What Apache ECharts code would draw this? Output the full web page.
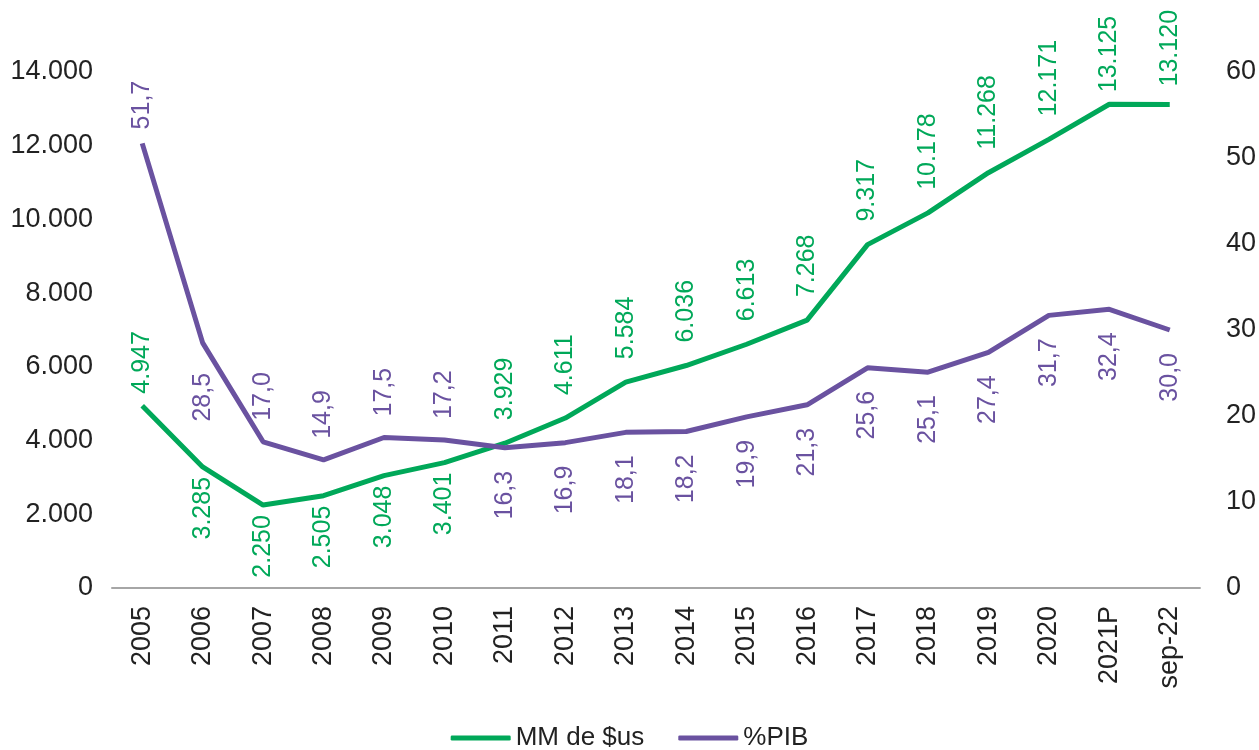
<!DOCTYPE html>
<html>
<head>
<meta charset="utf-8">
<script src="https://cdn.jsdelivr.net/npm/echarts@6/dist/echarts.min.js"></script>
<style>
html,body{margin:0;padding:0;background:#fff;}
#c{width:1259px;height:750px;}
</style>
</head>
<body>
<div id="c"></div>
<script>
const categories = ['2005','2006','2007','2008','2009','2010','2011','2012','2013','2014','2015','2016','2017','2018','2019','2020','2021P','sep-22'];
const mmUs = [4947,3285,2250,2505,3048,3401,3929,4611,5584,6036,6613,7268,9317,10178,11268,12171,13125,13120];
const pib = [51.7,28.5,17.0,14.9,17.5,17.2,16.3,16.9,18.1,18.2,19.9,21.3,25.6,25.1,27.4,31.7,32.4,30.0];
const leftTicks = {min:0, max:14000, interval:2000};
const rightTicks = {min:0, max:60, interval:10};

// label placement (indices of points whose labels sit below the line)
const mmBelow = new Set([1,2,3,4,5]);
const pibBelow = new Set([1,6,7,8,9,10,11,12,13,14,15,16,17]);

const GREEN = '#00A859';
const PURPLE = '#6A52A0';
const FONT = '"Liberation Sans", Arial, sans-serif';

function fmtThousands(v){
  return String(Math.round(v)).replace(/\B(?=(\d{3})+(?!\d))/g,'.');
}
function fmtDec(v){ return v.toFixed(1).replace('.',','); }

function labelFor(below, distUp, distDown){
  return below
    ? {show:true, position:'bottom', distance:distDown, align:'right', verticalAlign:'middle'}
    : {show:true, position:'top', distance:distUp, align:'left', verticalAlign:'middle'};
}

const mmData = mmUs.map((v,i)=>{
  let up = (i===0 || i===16) ? 12 : (i===17 ? 18 : 23);
  return {value:v, label:labelFor(mmBelow.has(i), up, 10)};
});
const pibData = pib.map((v,i)=>{
  let up = i===0 ? 14 : 21;
  let down = i===1 ? 30 : 23;
  return {value:v, label:labelFor(pibBelow.has(i), up, down)};
});

const chart = echarts.init(document.getElementById('c'), null, {renderer:'canvas'});
chart.setOption({
  animation:false,
  backgroundColor:'#ffffff',
  textStyle:{fontFamily:FONT},
  grid:{left:112, right:57, top:72, bottom:162, containLabel:false},
  legend:{
    bottom:-6, left:'center',
    itemWidth:60, itemHeight:5, itemGap:34,
    icon:'roundRect',
    textStyle:{fontSize:26, color:'#222', fontFamily:FONT},
    data:['MM de $us','%PIB']
  },
  xAxis:{
    type:'category', data:categories, boundaryGap:true,
    axisLine:{show:true, lineStyle:{color:'#a6a6a6', width:2}},
    axisTick:{show:false},
    axisLabel:{rotate:90, fontSize:27, color:'#222', margin:18, fontFamily:FONT, interval:0}
  },
  yAxis:[{
    type:'value', min:leftTicks.min, max:leftTicks.max, interval:leftTicks.interval,
    axisLine:{show:false}, axisTick:{show:false}, splitLine:{show:false},
    axisLabel:{fontSize:27, color:'#222', margin:19, fontFamily:FONT, formatter:v=>fmtThousands(v)}
  },{
    type:'value', min:rightTicks.min, max:rightTicks.max, interval:rightTicks.interval,
    axisLine:{show:false}, axisTick:{show:false}, splitLine:{show:false},
    axisLabel:{fontSize:27, color:'#222', margin:26, fontFamily:FONT}
  }],
  series:[{
    name:'MM de $us', type:'line', yAxisIndex:0, data:mmData,
    symbol:'circle', symbolSize:0, showSymbol:true,
    lineStyle:{color:GREEN, width:5}, itemStyle:{color:GREEN},
    label:{show:true, rotate:90, fontSize:25, color:GREEN, fontFamily:FONT,
      formatter:p=>fmtThousands(p.value)}
  },{
    name:'%PIB', type:'line', yAxisIndex:1, data:pibData,
    symbol:'circle', symbolSize:0, showSymbol:true,
    lineStyle:{color:PURPLE, width:5}, itemStyle:{color:PURPLE},
    label:{show:true, rotate:90, fontSize:25, color:PURPLE, fontFamily:FONT,
      formatter:p=>fmtDec(p.value)}
  }]
});
</script>
</body>
</html>
